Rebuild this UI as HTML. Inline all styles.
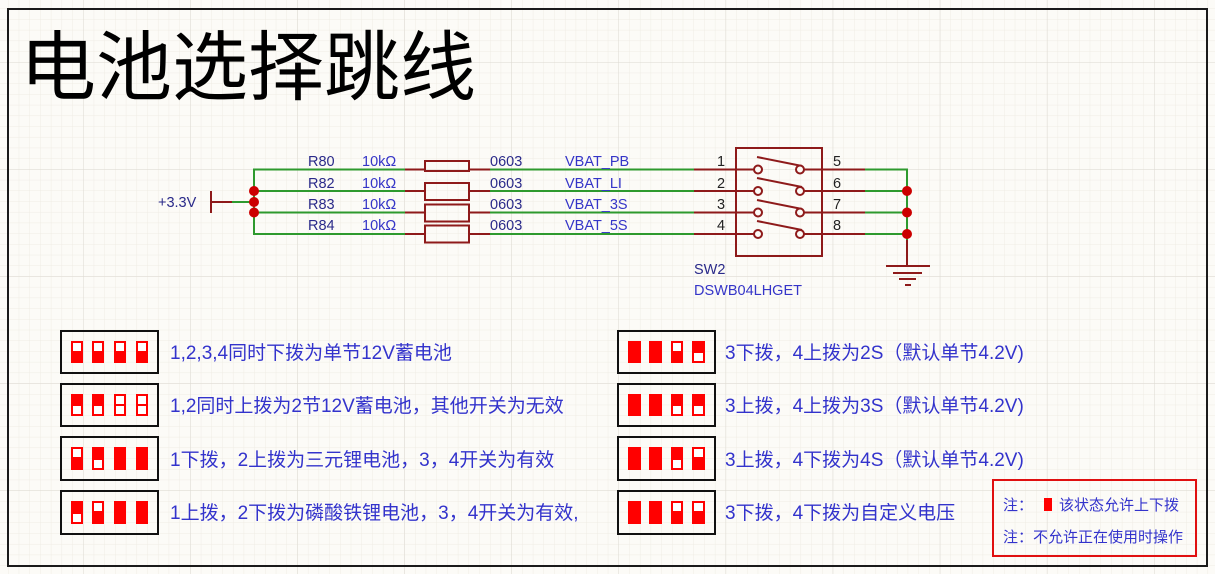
<!DOCTYPE html>
<html><head><meta charset="utf-8"><style>
html,body{margin:0;padding:0;background:#fcfbf7;}
svg{display:block;}
text{font-family:"Liberation Sans","Noto Sans CJK SC",sans-serif;}
</style></head><body>
<svg width="1215" height="574" viewBox="0 0 1215 574" xmlns="http://www.w3.org/2000/svg">
<defs>
<pattern id="minor" x="-24.1" y="-45.1" width="10.71" height="10.71" patternUnits="userSpaceOnUse">
<path d="M0 0V10.71M0 0H10.71" stroke="#efece4" stroke-width="1" fill="none"/>
</pattern>
<pattern id="major" x="-24.1" y="-45.1" width="107.1" height="107.1" patternUnits="userSpaceOnUse">
<path d="M0 0V107.1M0 0H107.1" stroke="#dcd9d2" stroke-width="1" fill="none"/>
</pattern>
</defs>
<rect width="1215" height="574" fill="#fcfbf7"/>
<rect width="1215" height="574" fill="url(#minor)"/>
<rect width="1215" height="574" fill="url(#major)"/>
<rect x="8" y="9" width="1199" height="557" fill="none" stroke="#1a1a1a" stroke-width="2"/>

<text x="20" y="94" font-size="76" fill="#000">电池选择跳线</text>

<!-- power -->
<g stroke="#8e1a1a" stroke-width="2" fill="none">
<line x1="211" y1="191" x2="211" y2="213"/>
<line x1="211" y1="202" x2="232" y2="202"/>
</g>
<text x="158" y="207" font-size="14.5" fill="#2a2a8a">+3.3V</text>
<g stroke="#2e9a2e" stroke-width="2" fill="none">
<line x1="232" y1="202" x2="254" y2="202"/>
<polyline points="405,169.5 254,169.5 254,234 405,234"/>
<line x1="254" y1="191" x2="405" y2="191"/>
<line x1="254" y1="212.5" x2="405" y2="212.5"/>
<line x1="490" y1="169.5" x2="694" y2="169.5"/>
<line x1="490" y1="191" x2="694" y2="191"/>
<line x1="490" y1="212.5" x2="694" y2="212.5"/>
<line x1="490" y1="234" x2="694" y2="234"/>
<polyline points="865,169.5 907,169.5 907,240"/>
<line x1="865" y1="191" x2="907" y2="191"/>
<line x1="865" y1="212.5" x2="907" y2="212.5"/>
<line x1="865" y1="234" x2="907" y2="234"/>
</g>
<g fill="#cc0000">
<circle cx="254" cy="191" r="5"/><circle cx="254" cy="202" r="5"/><circle cx="254" cy="212.5" r="5"/>
<circle cx="907" cy="191" r="5"/><circle cx="907" cy="212.5" r="5"/><circle cx="907" cy="234" r="5"/>
</g>
<!-- resistors -->
<g stroke="#8e1a1a" stroke-width="2" fill="none">
<line x1="405" y1="169.5" x2="425" y2="169.5"/><line x1="469" y1="169.5" x2="490" y2="169.5"/>
<line x1="405" y1="191" x2="425" y2="191"/><line x1="469" y1="191" x2="490" y2="191"/>
<line x1="405" y1="212.5" x2="425" y2="212.5"/><line x1="469" y1="212.5" x2="490" y2="212.5"/>
<line x1="405" y1="234" x2="425" y2="234"/><line x1="469" y1="234" x2="490" y2="234"/>
<rect x="425" y="161" width="44" height="10"/>
<rect x="425" y="183" width="44" height="17"/>
<rect x="425" y="204.5" width="44" height="17"/>
<rect x="425" y="225.5" width="44" height="17"/>
</g>
<g font-size="14.5" fill="#2a2a8a">
<text x="308" y="166">R80</text><text x="308" y="188">R82</text><text x="308" y="209">R83</text><text x="308" y="230">R84</text>
<text x="490" y="166">0603</text><text x="490" y="188">0603</text><text x="490" y="209">0603</text><text x="490" y="230">0603</text>
</g>
<g font-size="14.5" fill="#3535c8">
<text x="362" y="166">10kΩ</text><text x="362" y="188">10kΩ</text><text x="362" y="209">10kΩ</text><text x="362" y="230">10kΩ</text>
<text x="565" y="166">VBAT_PB</text><text x="565" y="188">VBAT_LI</text><text x="565" y="209">VBAT_3S</text><text x="565" y="230">VBAT_5S</text>
</g>
<!-- switch -->
<g stroke="#8e1a1a" stroke-width="2" fill="none">
<rect x="736" y="148" width="86" height="108"/>
<line x1="694" y1="169.5" x2="754" y2="169.5"/><line x1="804" y1="169.5" x2="865" y2="169.5"/>
<line x1="694" y1="191" x2="754" y2="191"/><line x1="804" y1="191" x2="865" y2="191"/>
<line x1="694" y1="212.5" x2="754" y2="212.5"/><line x1="804" y1="212.5" x2="865" y2="212.5"/>
<line x1="694" y1="234" x2="754" y2="234"/><line x1="804" y1="234" x2="865" y2="234"/>
<line x1="757" y1="157" x2="802" y2="166"/>
<line x1="757" y1="178" x2="802" y2="187"/>
<line x1="757" y1="200" x2="802" y2="209"/>
<line x1="757" y1="221" x2="802" y2="230"/>
<line x1="907" y1="240" x2="907" y2="266"/>
<line x1="886" y1="266" x2="930" y2="266"/>
<line x1="893" y1="273" x2="922" y2="273"/>
<line x1="899" y1="279" x2="916" y2="279"/>
<line x1="905" y1="285" x2="911" y2="285"/>
</g>
<g stroke="#8e1a1a" stroke-width="2" fill="#fcfbf7">
<circle cx="758" cy="169.5" r="4"/><circle cx="800" cy="169.5" r="4"/>
<circle cx="758" cy="191" r="4"/><circle cx="800" cy="191" r="4"/>
<circle cx="758" cy="212.5" r="4"/><circle cx="800" cy="212.5" r="4"/>
<circle cx="758" cy="234" r="4"/><circle cx="800" cy="234" r="4"/>
</g>
<g font-size="14.5" fill="#222">
<text x="717" y="166">1</text><text x="717" y="188">2</text><text x="717" y="209">3</text><text x="717" y="230">4</text>
<text x="833" y="166">5</text><text x="833" y="188">6</text><text x="833" y="209">7</text><text x="833" y="230">8</text>
</g>
<text x="694" y="274" font-size="14.5" fill="#2a2a8a">SW2</text>
<text x="694" y="295" font-size="14.5" fill="#3535c8">DSWB04LHGET</text>

<!-- DIP boxes -->
<g fill="none" stroke="#111" stroke-width="2">
<rect x="61" y="331" width="97" height="42"/><rect x="61" y="384" width="97" height="42"/>
<rect x="61" y="437" width="97" height="43"/><rect x="61" y="491" width="97" height="43"/>
<rect x="618" y="331" width="97" height="42"/><rect x="618" y="384" width="97" height="42"/>
<rect x="618" y="437" width="97" height="43"/><rect x="618" y="491" width="97" height="43"/>
</g>
<g fill="#ff0000">
<rect x="71" y="341" width="12" height="22"/><rect x="92" y="341" width="12" height="22"/><rect x="114" y="341" width="12" height="22"/><rect x="136" y="341" width="12" height="22"/>
<rect x="71" y="394" width="12" height="22"/><rect x="92" y="394" width="12" height="22"/><rect x="114" y="394" width="12" height="22"/><rect x="136" y="394" width="12" height="22"/>
<rect x="71" y="447" width="12" height="23"/><rect x="92" y="447" width="12" height="23"/><rect x="114" y="447" width="12" height="23"/><rect x="136" y="447" width="12" height="23"/>
<rect x="71" y="501" width="12" height="23"/><rect x="92" y="501" width="12" height="23"/><rect x="114" y="501" width="12" height="23"/><rect x="136" y="501" width="12" height="23"/>
<rect x="628" y="341" width="13" height="22"/><rect x="649" y="341" width="13" height="22"/><rect x="671" y="341" width="12" height="22"/><rect x="692" y="341" width="13" height="22"/>
<rect x="628" y="394" width="13" height="22"/><rect x="649" y="394" width="13" height="22"/><rect x="671" y="394" width="12" height="22"/><rect x="692" y="394" width="13" height="22"/>
<rect x="628" y="447" width="13" height="23"/><rect x="649" y="447" width="13" height="23"/><rect x="671" y="447" width="12" height="23"/><rect x="692" y="447" width="13" height="23"/>
<rect x="628" y="501" width="13" height="23"/><rect x="649" y="501" width="13" height="23"/><rect x="671" y="501" width="12" height="23"/><rect x="692" y="501" width="13" height="23"/>
<rect x="1044" y="498" width="8" height="13"/>
</g>
<g fill="#fff">
<rect x="73" y="343" width="8" height="8"/><rect x="94" y="343" width="8" height="8"/><rect x="116" y="343" width="8" height="8"/><rect x="138" y="343" width="8" height="8"/>
<rect x="73" y="406" width="8" height="8"/><rect x="94" y="406" width="8" height="8"/>
<rect x="116" y="396" width="8" height="8"/><rect x="116" y="406" width="8" height="8"/>
<rect x="138" y="396" width="8" height="8"/><rect x="138" y="406" width="8" height="8"/>
<rect x="73" y="449" width="8" height="8"/><rect x="94" y="460" width="8" height="8"/>
<rect x="73" y="514" width="8" height="8"/><rect x="94" y="503" width="8" height="8"/>
<rect x="673" y="343" width="8" height="8"/><rect x="694" y="353" width="9" height="8"/>
<rect x="673" y="406" width="8" height="8"/><rect x="694" y="406" width="9" height="8"/>
<rect x="673" y="460" width="8" height="8"/><rect x="694" y="449" width="9" height="8"/>
<rect x="673" y="503" width="8" height="8"/><rect x="694" y="503" width="9" height="8"/>
</g>
<g font-size="19" fill="#3333cc">
<text x="170" y="359">1,2,3,4同时下拨为单节12V蓄电池</text>
<text x="170" y="412">1,2同时上拨为2节12V蓄电池，其他开关为无效</text>
<text x="170" y="466">1下拨，2上拨为三元锂电池，3，4开关为有效</text>
<text x="170" y="519">1上拨，2下拨为磷酸铁锂电池，3，4开关为有效,</text>
<text x="725" y="359">3下拨，4上拨为2S（默认单节4.2V)</text>
<text x="725" y="412">3上拨，4上拨为3S（默认单节4.2V)</text>
<text x="725" y="466">3上拨，4下拨为4S（默认单节4.2V)</text>
<text x="725" y="519">3下拨，4下拨为自定义电压</text>
</g>
<rect x="993" y="480" width="203" height="76" fill="none" stroke="#e01010" stroke-width="2"/>
<g font-size="15" fill="#3333cc">
<text x="1003" y="510">注：</text>
<text x="1059" y="510">该状态允许上下拨</text>
<text x="1003" y="542">注：不允许正在使用时操作</text>
</g>
</svg>
</body></html>
